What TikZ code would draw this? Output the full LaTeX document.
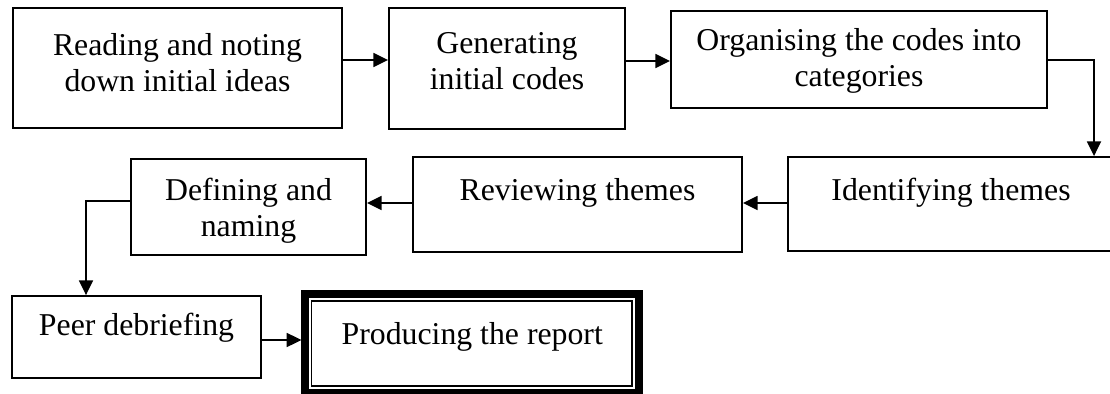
\documentclass[tikz,border=0pt]{standalone}
\usepackage{fontspec}
\setmainfont{Liberation Serif}
\usetikzlibrary{arrows.meta}
\newcommand{\stagefont}{\fontsize{22.6}{25.6}\selectfont}

\begin{document}
\begin{tikzpicture}[x=0.025cm, y=-0.025cm]
        \tikzset{
          stage/.style = {draw, rectangle, line width=1.3pt, inner sep=0pt},
          stagetext/.style = {anchor=north, align=center, inner sep=0pt, font=\stagefont},
          flow/.style = {-{Triangle[length=10.5pt, width=10pt]}, line width=1.1pt}
        }
        \useasboundingbox (0,0) rectangle (1110,394);

        % top row
        \node(read)[stage, minimum width=8.225cm, minimum height=3cm,
          label={[stagetext, yshift=-0.64cm]north:{Reading and noting\\down initial ideas}}] at (177.5,68) {};
        \node(gen)[stage, minimum width=5.9cm, minimum height=3.025cm,
          label={[stagetext, yshift=-0.62cm]north:{Generating\\initial codes}}] at (507,68.5) {};
        \node(org)[stage, minimum width=9.4cm, minimum height=2.425cm,
          label={[stagetext, yshift=-0.44cm]north:{Organising the codes into\\categories}}] at (859,59.5) {};

        % middle row
        \node(ident)[stage, minimum width=8.15cm, minimum height=2.35cm,
          label={[stagetext, yshift=-0.54cm]north:{Identifying themes}}] at (951,204) {};
        \node(rev)[stage, minimum width=8.225cm, minimum height=2.375cm,
          label={[stagetext, yshift=-0.54cm]north:{Reviewing themes}}] at (577.5,204.5) {};
        \node(def)[stage, minimum width=5.875cm, minimum height=2.4cm,
          label={[stagetext, yshift=-0.49cm]north:{Defining and\\naming}}] at (248.5,207) {};

        % bottom row
        \node(peer)[stage, minimum width=6.225cm, minimum height=2.05cm,
          label={[stagetext, yshift=-0.44cm]north:{Peer debriefing}}] at (136.5,337) {};
        \node(prod)[stage, line width=0.2cm, minimum width=8.3375cm, minimum height=2.475cm,
          label={[stagetext, yshift=-0.8cm]north:{Producing the report}}] at (472.25,343.5) {};
        \draw[line width=0.8pt] ([shift={(10,11)}]prod.north west) rectangle ([shift={(-11,-11)}]prod.south east);

        % arrows
        \coordinate (bend1) at (1094,60);
        \coordinate (bend2) at (86,201);
        \draw[flow] (read.east |- 0,60) -- (gen.west |- 0,60);
        \draw[flow] (gen.east |- 0,61) -- (org.west |- 0,61);
        \draw[flow] (org.east |- bend1) -| (ident.north -| bend1);
        \draw[flow] (ident.west |- 0,203) -- (rev.east |- 0,203);
        \draw[flow] (rev.west |- 0,203) -- (def.east |- 0,203);
        \draw[flow] (def.west |- bend2) -| (peer.north -| bend2);
        \draw[flow] (peer.east |- 0,340) -- (prod.west |- 0,340);

    \end{tikzpicture}
\end{document}
